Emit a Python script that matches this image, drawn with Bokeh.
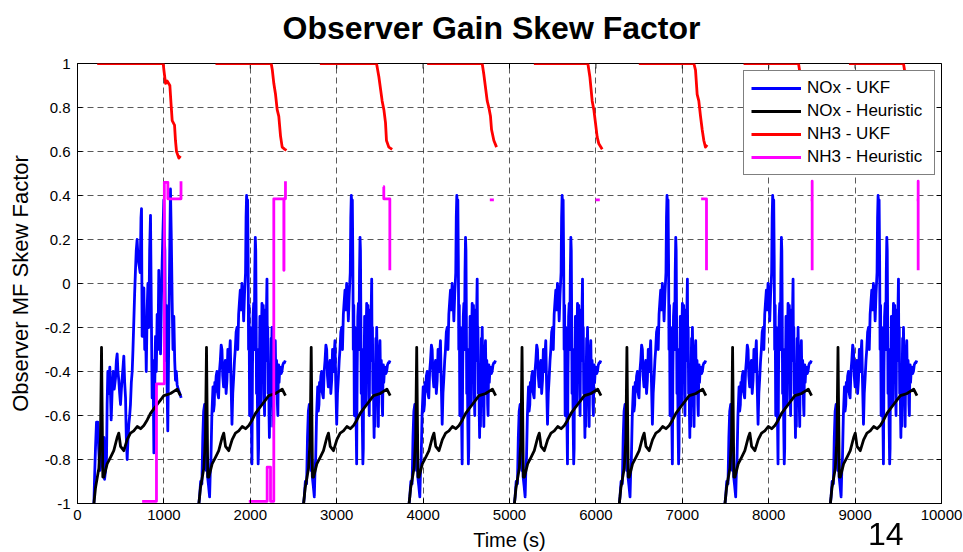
import math
from bokeh.plotting import figure
from bokeh.layouts import column
from bokeh.models import FixedTicker, Range1d, Legend, LegendItem, Div
from bokeh.embed import file_html
from bokeh.resources import INLINE

TITLE = "Observer Gain Skew Factor"
X_LABEL = "Time (s)"
Y_LABEL = "Observer MF Skew Factor"
SERIES_NAMES = ["NOx - UKF", "NOx - Heuristic", "NH3 - UKF", "NH3 - Heuristic"]
SERIES_COLORS = ["#0000ff", "#000000", "#ff0000", "#ff00ff"]
PAGE_NUMBER = "14"

X_TICKS = [0, 1000, 2000, 3000, 4000, 5000, 6000, 7000, 8000, 9000, 10000]
X_TICK_LABELS = ["0", "1000", "2000", "3000", "4000", "5000", "6000", "7000", "8000", "9000", "10000"]
Y_TICKS = [-1, -0.8, -0.6, -0.4, -0.2, 0, 0.2, 0.4, 0.6, 0.8, 1]
Y_TICK_LABELS = ["-1", "-0.8", "-0.6", "-0.4", "-0.2", "0", "0.2", "0.4", "0.6", "0.8", "1"]

# start time (s) of each repeated drive cycle
CYCLE_STARTS = [190, 1405, 2617, 3838, 5057, 6271, 7494, 8714]

# NOx - Heuristic, time relative to cycle start
BLACK_REL = [0, 18, 57, 76, 88, 103, 115, 153, 192, 230, 269, 288, 308, 346, 385, 423,
             461, 501, 540, 578, 617, 655, 693, 732, 770, 809, 848, 886, 925, 964, 1002]
BLACK_VAL = [-1, -0.93, -0.84, -0.70, -0.29, -0.88, -0.88, -0.82, -0.79, -0.76, -0.70,
             -0.68, -0.74, -0.76, -0.71, -0.68, -0.67, -0.65, -0.66, -0.645, -0.62, -0.59,
             -0.57, -0.55, -0.53, -0.51, -0.505, -0.50, -0.49, -0.48, -0.51]

# NOx - UKF, first cycle (relative time)
BLUE1_REL = [0, 7, 18, 30, 45, 55, 68, 84, 95, 107, 115, 123, 135, 146, 153, 161, 170, 184,
             192, 200, 210, 223, 235, 250, 260, 269, 278, 288, 298, 308, 318, 327, 337, 346,
             356, 366, 375, 385, 395, 404, 414, 423, 433, 443, 452, 462, 471, 481, 490, 500,
             510, 520, 535, 545, 551, 558, 568, 578, 588, 597, 606, 616, 625, 635, 645, 655,
             664, 674, 684, 694, 703, 713, 722, 732, 741, 751, 761, 771, 780, 790, 800, 809,
             815, 821, 829, 838, 846, 855, 865, 876, 886, 896, 906, 915, 925, 935, 944, 954,
             963, 975, 994, 1010]
BLUE1_VAL = [-1, -0.89, -0.75, -0.63, -0.63, -0.75, -0.85, -0.73, -0.80, -0.85, -0.70,
             -0.89, -0.85, -0.79, -0.55, -0.40, -0.50, -0.38, -0.50, -0.62, -0.50, -0.40,
             -0.48, -0.43, -0.35, -0.32, -0.40, -0.44, -0.50, -0.55, -0.48, -0.43, -0.38,
             -0.33, -0.45, -0.52, -0.70, -0.80, -0.70, -0.64, -0.60, -0.55, -0.45, -0.40,
             -0.30, -0.17, -0.05, 0.06, 0.15, 0.20, 0.12, 0.09, 0.05, 0.30, 0.34, -0.24,
             -0.10, -0.02, -0.30, -0.17, -0.40, -0.12, 0.00, -0.20, 0.15, 0.31, -0.10, -0.52,
             -0.35, -0.77, -0.50, -0.24, -0.40, -0.14, -0.30, 0.06, -0.10, -0.32, -0.10, 0.10,
             0.25, 0.38, 0.20, 0.15, -0.35, -0.10, -0.45, -0.67, -0.30, 0.10, 0.43, 0.20,
             -0.09, -0.30, -0.15, -0.35, -0.44, -0.40, -0.46, -0.48, -0.50, -0.52]

# NOx - UKF, later cycles (relative time)
BLUE_REL = [0, 8, 20, 35, 45, 55, 66, 76, 86, 95, 101, 112, 124, 132, 140, 150, 163, 170,
            178, 184, 190, 200, 209, 218, 228, 238, 248, 258, 267, 276, 286, 296, 306, 315,
            325, 335, 344, 354, 363, 372, 383, 392, 402, 412, 421, 431, 441, 450, 460, 470,
            479, 488, 498, 508, 518, 528, 540, 546, 552, 558, 564, 570, 575, 581, 587, 594,
            600, 607, 614, 620, 627, 634, 640, 647, 653, 658, 662, 667, 672, 680, 686, 691,
            696, 700, 706, 711, 716, 720, 725, 730, 735, 740, 745, 749, 755, 760, 765, 769,
            774, 778, 783, 788, 792, 797, 802, 807, 812, 816, 821, 826, 831, 836, 841, 846,
            850, 855, 860, 865, 870, 875, 880, 884, 889, 894, 899, 904, 909, 914, 918, 923,
            928, 932, 937, 942, 951, 961, 971, 981, 990, 1000]
BLUE_VAL = [-1.0, -0.97, -0.90, -0.91, -0.70, -0.58, -0.55, -0.70, -0.85, -0.80, -0.88,
            -0.92, -0.97, -0.85, -0.79, -0.60, -0.47, -0.58, -0.55, -0.45, -0.49, -0.42,
            -0.40, -0.50, -0.52, -0.40, -0.35, -0.28, -0.30, -0.42, -0.47, -0.38, -0.35,
            -0.50, -0.44, -0.30, -0.40, -0.32, -0.26, -0.45, -0.64, -0.50, -0.43, -0.35,
            -0.30, -0.22, -0.20, -0.30, -0.14, -0.08, -0.03, -0.12, 0.00, -0.05, -0.17,
            -0.05, 0.05, 0.30, 0.40, 0.36, 0.38, 0.10, -0.30, -0.10, -0.60, -0.20, -0.35,
            -0.60, -0.82, -0.40, -0.15, -0.09, -0.30, 0.05, 0.21, 0.15, -0.10, -0.50, -0.30,
            -0.65, -0.82, -0.75, -0.30, -0.40, -0.15, -0.24, -0.45, -0.55, -0.20, -0.09,
            -0.40, -0.30, -0.10, -0.24, -0.50, -0.60, -0.30, -0.12, -0.30, -0.35, -0.10,
            0.02, -0.30, -0.20, -0.50, -0.40, -0.60, -0.70, -0.50, -0.65, -0.40, -0.25,
            -0.35, -0.20, -0.30, -0.45, -0.55, -0.65, -0.45, -0.35, -0.30, -0.26, -0.40,
            -0.50, -0.35, -0.40, -0.55, -0.60, -0.45, -0.37, -0.45, -0.42, -0.38, -0.38,
            -0.41, -0.40, -0.37, -0.36, -0.36, -0.35]

# NH3 - UKF, per cycle (absolute time)
RED_T = [
    [228, 992, 1000, 1019, 1038, 1069, 1084, 1096, 1123, 1134, 1146, 1173, 1192],
    [1597, 2242, 2255, 2272, 2292, 2311, 2330, 2350, 2369, 2400, 2419],
    [2805, 3461, 3488, 3526, 3546, 3565, 3576, 3603, 3642],
    [4047, 4684, 4703, 4742, 4761, 4780, 4792, 4819, 4850],
    [5282, 5907, 5930, 5957, 5976, 5995, 6015, 6034, 6073],
    [6497, 7134, 7153, 7172, 7191, 7211, 7230, 7249, 7268, 7288],
    [7709, 8345, 8365, 8385, 8405, 8425, 8445, 8465, 8490, 8510],
    [8929, 9560, 9580, 9600, 9620, 9640, 9660, 9680, 9705, 9725],
]
RED_V = [
    [1, 1, 0.97, 0.91, 0.92, 0.90, 0.81, 0.74, 0.72, 0.65, 0.60, 0.57, 0.58],
    [1, 1, 0.97, 0.91, 0.86, 0.79, 0.76, 0.67, 0.62, 0.61, 0.605],
    [1, 1, 0.94, 0.83, 0.79, 0.73, 0.65, 0.62, 0.61],
    [1, 1, 0.95, 0.83, 0.80, 0.76, 0.70, 0.65, 0.62],
    [1, 1, 0.94, 0.83, 0.79, 0.73, 0.665, 0.635, 0.61],
    [1, 1, 0.97, 0.86, 0.83, 0.76, 0.70, 0.65, 0.62, 0.63],
    [1, 1, 0.95, 0.86, 0.82, 0.76, 0.70, 0.65, 0.62, 0.61],
    [1, 1, 0.95, 0.86, 0.82, 0.76, 0.70, 0.65, 0.62, 0.61],
]

# NH3 - Heuristic, per cycle (absolute time)
MAG_T = [
    [748, 914, 914, 1005, 1005, 1046, 1046, 1198, 1198],
    [1983, 2195, 2195, 2234, 2234, 2272, 2272, 2388, 2388, 2390, 2390, 2407, 2407],
    [3538, 3545, 3545, 3615, 3615],
    [4772, 4819],
    [5995, 6045],
    [7218, 7280, 7280],
    [8485, 8503, 8503, 8503],
    [9712, 9730, 9730, 9730],
]
MAG_V = [
    [-0.99, -0.99, -0.456, -0.456, 0.46, 0.46, 0.385, 0.385, 0.465],
    [-0.99, -0.99, -0.835, -0.835, -0.99, -0.99, 0.385, 0.385, 0.06, 0.06, 0.385, 0.385, 0.465],
    [0.44, 0.44, 0.385, 0.385, 0.06],
    [0.38, 0.38],
    [0.38, 0.38],
    [0.385, 0.385, 0.06],
    [0.38, 0.38, 0.465, 0.06],
    [0.38, 0.38, 0.465, 0.06],
]


def join_segments(ts, vs):
    xs, ys = [], []
    for t, v in zip(ts, vs):
        if xs:
            xs.append(math.nan)
            ys.append(math.nan)
        xs.extend(t)
        ys.extend(v)
    return xs, ys


blue_t, blue_v, black_t, black_v = [], [], [], []
for i, start in enumerate(CYCLE_STARTS):
    rel, val = (BLUE1_REL, BLUE1_VAL) if i == 0 else (BLUE_REL, BLUE_VAL)
    blue_t.append([start + r for r in rel])
    blue_v.append(val)
    black_t.append([start + r for r in BLACK_REL])
    black_v.append(BLACK_VAL)

series = [join_segments(blue_t, blue_v), join_segments(black_t, black_v),
          join_segments(RED_T, RED_V), join_segments(MAG_T, MAG_V)]

FONT = "Liberation Sans"

# the figure is 14px taller at the top and pulled up by the same amount, so that the
# title can sit high above the plot box while the box keeps its place on the page
fig = figure(width=963, height=566, output_backend="svg", toolbar_location=None,
             x_range=Range1d(0, 10000), y_range=Range1d(-1, 1),
             min_border_left=77, min_border_right=22, min_border_top=77,
             min_border_bottom=49, background_fill_color="white",
             border_fill_color="white", margin=(-14, 0, 0, 0))
fig.frame_width = 864
fig.frame_height = 440

fig.title.text = TITLE
fig.title.text_font = FONT
fig.title.text_font_size = "32px"
fig.title.text_font_style = "bold"
fig.title.text_color = "black"
fig.title.align = "left"
fig.title.offset = 205
fig.title.vertical_align = "bottom"
fig.title.standoff = 36

for ax in (fig.xaxis[0], fig.yaxis[0]):
    ax.major_tick_in = 5
    ax.major_tick_out = 0
    ax.minor_tick_in = 0
    ax.minor_tick_out = 0
    ax.major_label_text_font = FONT
    ax.major_label_text_font_size = "15px"
    ax.major_label_text_color = "black"
    ax.axis_label_text_font = FONT
    ax.axis_label_text_font_style = "normal"
    ax.axis_label_text_color = "black"
    ax.axis_line_color = "black"
    ax.major_tick_line_color = "black"

fig.xaxis[0].ticker = FixedTicker(ticks=X_TICKS)
fig.xaxis[0].major_label_overrides = dict(zip(X_TICKS, X_TICK_LABELS))
fig.xaxis[0].axis_label = X_LABEL
fig.xaxis[0].axis_label_text_font_size = "20px"
fig.xaxis[0].major_label_standoff = 6
fig.xaxis[0].axis_label_standoff = 6
fig.yaxis[0].ticker = FixedTicker(ticks=Y_TICKS)
fig.yaxis[0].major_label_overrides = dict(zip(Y_TICKS, Y_TICK_LABELS))
fig.yaxis[0].axis_label = Y_LABEL
fig.yaxis[0].axis_label_text_font_size = "22px"
fig.yaxis[0].major_label_standoff = 7
fig.yaxis[0].axis_label_standoff = 9

fig.xgrid.ticker = FixedTicker(ticks=X_TICKS)
fig.ygrid.ticker = FixedTicker(ticks=Y_TICKS)
for g in (fig.xgrid[0], fig.ygrid[0]):
    g.grid_line_color = "#222222"
    g.grid_line_alpha = 0.75
    g.grid_line_dash = "6 4"
    g.grid_line_width = 1

fig.outline_line_color = "black"
fig.outline_line_width = 1

# inward tick marks mirrored on the top and right edges of the box
fig.scatter(X_TICKS, [Y_TICKS[-1]] * len(X_TICKS), marker="dash", size=10, angle=math.pi / 2,
            line_color="black", line_width=1)
fig.scatter([X_TICKS[-1]] * len(Y_TICKS), Y_TICKS, marker="dash", size=10,
            line_color="black", line_width=1)

renderers = []
for (xs, ys), color in zip(series, SERIES_COLORS):
    r = fig.line(xs, ys, line_color=color, line_width=2.8, line_join="round")
    renderers.append(r)

legend = Legend(items=[LegendItem(label=n, renderers=[r]) for n, r in zip(SERIES_NAMES, renderers)],
                location=(666, 328), border_line_color="black", border_line_width=1,
                background_fill_color="white", background_fill_alpha=1.0,
                label_text_font=FONT, label_text_font_size="17px", label_text_color="black",
                glyph_width=50, glyph_height=20, label_height=20, label_width=120,
                spacing=3, padding=7, margin=0, label_standoff=6)
fig.add_layout(legend)

# slide page number and the edge of a note box, both outside the plot frame
page_div = Div(text=PAGE_NUMBER, width=40, height=36,
               styles={"position": "fixed", "left": "863px", "top": "511px",
                       "font-family": "Liberation Sans", "font-size": "32px",
                       "line-height": "36px", "color": "black", "z-index": "5"})
box_div = Div(text="", width=4, height=101,
              styles={"position": "fixed", "left": "959px", "top": "309px",
                      "display": "block", "width": "4px", "height": "101px",
                      "min-width": "4px", "min-height": "101px", "box-sizing": "border-box",
                      "background-color": "#ffffcc", "border-left": "1px solid black",
                      "border-top": "1px solid black", "border-bottom": "1px solid black",
                      "z-index": "6"})

p = column(fig, box_div, page_div)

open("out.html", "w").write(file_html(p, INLINE))
